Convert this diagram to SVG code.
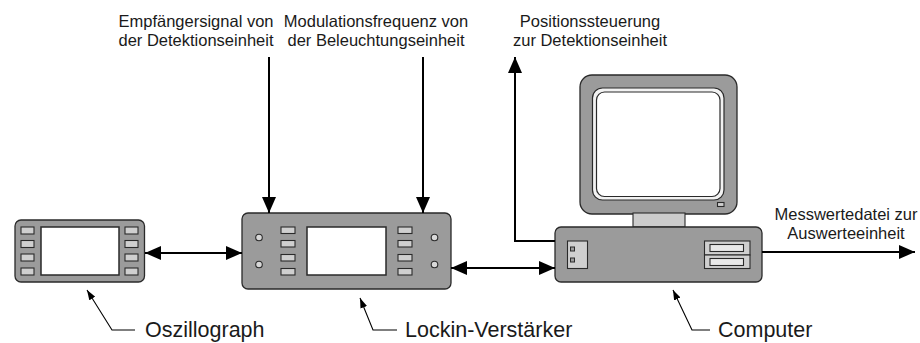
<svg xmlns="http://www.w3.org/2000/svg" width="920" height="343" viewBox="0 0 920 343">
  <defs>
    <style>
      .body { fill: #9b9b9b; stroke: #2a2a2a; stroke-width: 1.3; }
      .btn { fill: #cfcfcf; stroke: #2a2a2a; stroke-width: 1.1; }
      .screen { fill: #ffffff; stroke: #2a2a2a; stroke-width: 1.5; }
      .knob { fill: #d8d8d8; stroke: #2a2a2a; stroke-width: 1.1; }
      .wire { fill: none; stroke: #000; stroke-width: 2; }
      .leader { fill: none; stroke: #000; stroke-width: 1.1; }
      .lbl { font-family: "Liberation Sans", Arial, sans-serif; font-size: 16.5px; fill: #1a1a1a; text-anchor: middle; }
      .name { font-family: "Liberation Sans", Arial, sans-serif; font-size: 21.5px; fill: #1a1a1a; }
    </style>
    <marker id="head" markerUnits="userSpaceOnUse" markerWidth="16" markerHeight="14" refX="16" refY="7" orient="auto-start-reverse">
      <path d="M0,0 L16,7 L0,14 z" fill="#000"/>
    </marker>
    <marker id="tip" markerUnits="userSpaceOnUse" markerWidth="10" markerHeight="7" refX="10" refY="3.5" orient="auto">
      <path d="M0,0 L10,3.5 L0,7 z" fill="#000"/>
    </marker>
  </defs>

  <!-- Oscilloscope -->
  <g id="oszillograph">
    <rect class="body" x="15" y="220" width="129.5" height="62" rx="6"/>
    <rect class="screen" x="41" y="227" width="78" height="48"/>
    <rect class="btn" x="21" y="227" width="13" height="7"/>
    <rect class="btn" x="21" y="240.5" width="13" height="7"/>
    <rect class="btn" x="21" y="254" width="13" height="7"/>
    <rect class="btn" x="21" y="268" width="13" height="7"/>
    <rect class="btn" x="125" y="227" width="13" height="7"/>
    <rect class="btn" x="125" y="240.5" width="13" height="7"/>
    <rect class="btn" x="125" y="254" width="13" height="7"/>
    <rect class="btn" x="125" y="268" width="13" height="7"/>
    <text class="name" x="145" y="337">Oszillograph</text>
  </g>

  <!-- Lock-in amplifier -->
  <g id="lockin">
    <rect class="body" x="242" y="213" width="209" height="76" rx="6"/>
    <rect class="screen" x="307" y="227" width="79" height="48"/>
    <circle class="knob" cx="259" cy="237.5" r="3.3"/>
    <circle class="knob" cx="259" cy="264.5" r="3.3"/>
    <circle class="knob" cx="434.5" cy="237.5" r="3.3"/>
    <circle class="knob" cx="434.5" cy="264.5" r="3.3"/>
    <rect class="btn" x="281" y="227" width="14" height="6.5"/>
    <rect class="btn" x="281" y="240.5" width="14" height="6.5"/>
    <rect class="btn" x="281" y="254.5" width="14" height="6.5"/>
    <rect class="btn" x="281" y="268.5" width="14" height="6.5"/>
    <rect class="btn" x="398" y="227" width="14" height="6.5"/>
    <rect class="btn" x="398" y="240.5" width="14" height="6.5"/>
    <rect class="btn" x="398" y="254.5" width="14" height="6.5"/>
    <rect class="btn" x="398" y="268.5" width="14" height="6.5"/>
    <text class="name" x="405" y="337">Lockin-Verstärker</text>
  </g>

  <!-- Computer: monitor, stand and desktop case -->
  <g id="computer">
    <rect class="body" x="580" y="75" width="157" height="139" rx="12"/>
    <rect x="592.5" y="88" width="131.5" height="112" rx="10" fill="#f2f2f2" stroke="#2a2a2a" stroke-width="1.2"/>
    <rect x="596.5" y="92" width="123.5" height="104.5" rx="8" fill="#fff" stroke="#2a2a2a" stroke-width="1.2"/>
    <rect class="btn" x="717.5" y="202.5" width="6.5" height="4"/>
    <rect x="633" y="213" width="52" height="14" fill="#cccccc" stroke="#2a2a2a" stroke-width="1.1"/>
    <rect class="body" x="555" y="227" width="207" height="55" rx="6"/>
    <rect class="btn" x="567.5" y="241" width="20" height="27.5"/>
    <rect x="570.5" y="247" width="4" height="4" fill="#9b9b9b" stroke="#2a2a2a" stroke-width="1"/>
    <rect x="570.5" y="258" width="4" height="4" fill="#9b9b9b" stroke="#2a2a2a" stroke-width="1"/>
    <rect class="btn" x="704.5" y="241" width="45.5" height="14"/>
    <rect class="btn" x="704.5" y="255" width="45.5" height="13.5"/>
    <rect x="710" y="244.5" width="33.5" height="7" fill="#e8e8e8" stroke="#2a2a2a" stroke-width="1.1"/>
    <rect x="710" y="258.5" width="33.5" height="7" fill="#e8e8e8" stroke="#2a2a2a" stroke-width="1.1"/>
    <text class="name" x="718" y="337">Computer</text>
  </g>

  <!-- Signal labels, two lines each -->
  <g id="labels">
    <text class="lbl" x="196" y="26.5">Empfängersignal von</text>
    <text class="lbl" x="196" y="45.5">der Detektionseinheit</text>
    <text class="lbl" x="376" y="26.5">Modulationsfrequenz von</text>
    <text class="lbl" x="376" y="45.5">der Beleuchtungseinheit</text>
    <text class="lbl" x="590" y="26.5">Positionssteuerung</text>
    <text class="lbl" x="590" y="45.5">zur Detektionseinheit</text>
    <text class="lbl" x="846" y="220">Messwertedatei zur</text>
    <text class="lbl" x="846" y="239">Auswerteeinheit</text>
  </g>

  <!-- Connectors -->
  <g id="connectors">
    <path class="wire" d="M269,57 V213" marker-end="url(#head)"/>
    <path class="wire" d="M423,57 V213" marker-end="url(#head)"/>
    <path class="wire" d="M145,253 H242" marker-start="url(#head)" marker-end="url(#head)"/>
    <path class="wire" d="M451,268 H555" marker-start="url(#head)" marker-end="url(#head)"/>
    <path class="wire" d="M555,241 H515 V57" marker-end="url(#head)"/>
    <path class="wire" d="M762,252 H915" marker-end="url(#head)"/>
    <path class="leader" d="M135,330 H112 L87,290" marker-end="url(#tip)"/>
    <path class="leader" d="M397,330 H373 L360,298" marker-end="url(#tip)"/>
    <path class="leader" d="M710,330 H692 L673,290" marker-end="url(#tip)"/>
  </g>
</svg>
